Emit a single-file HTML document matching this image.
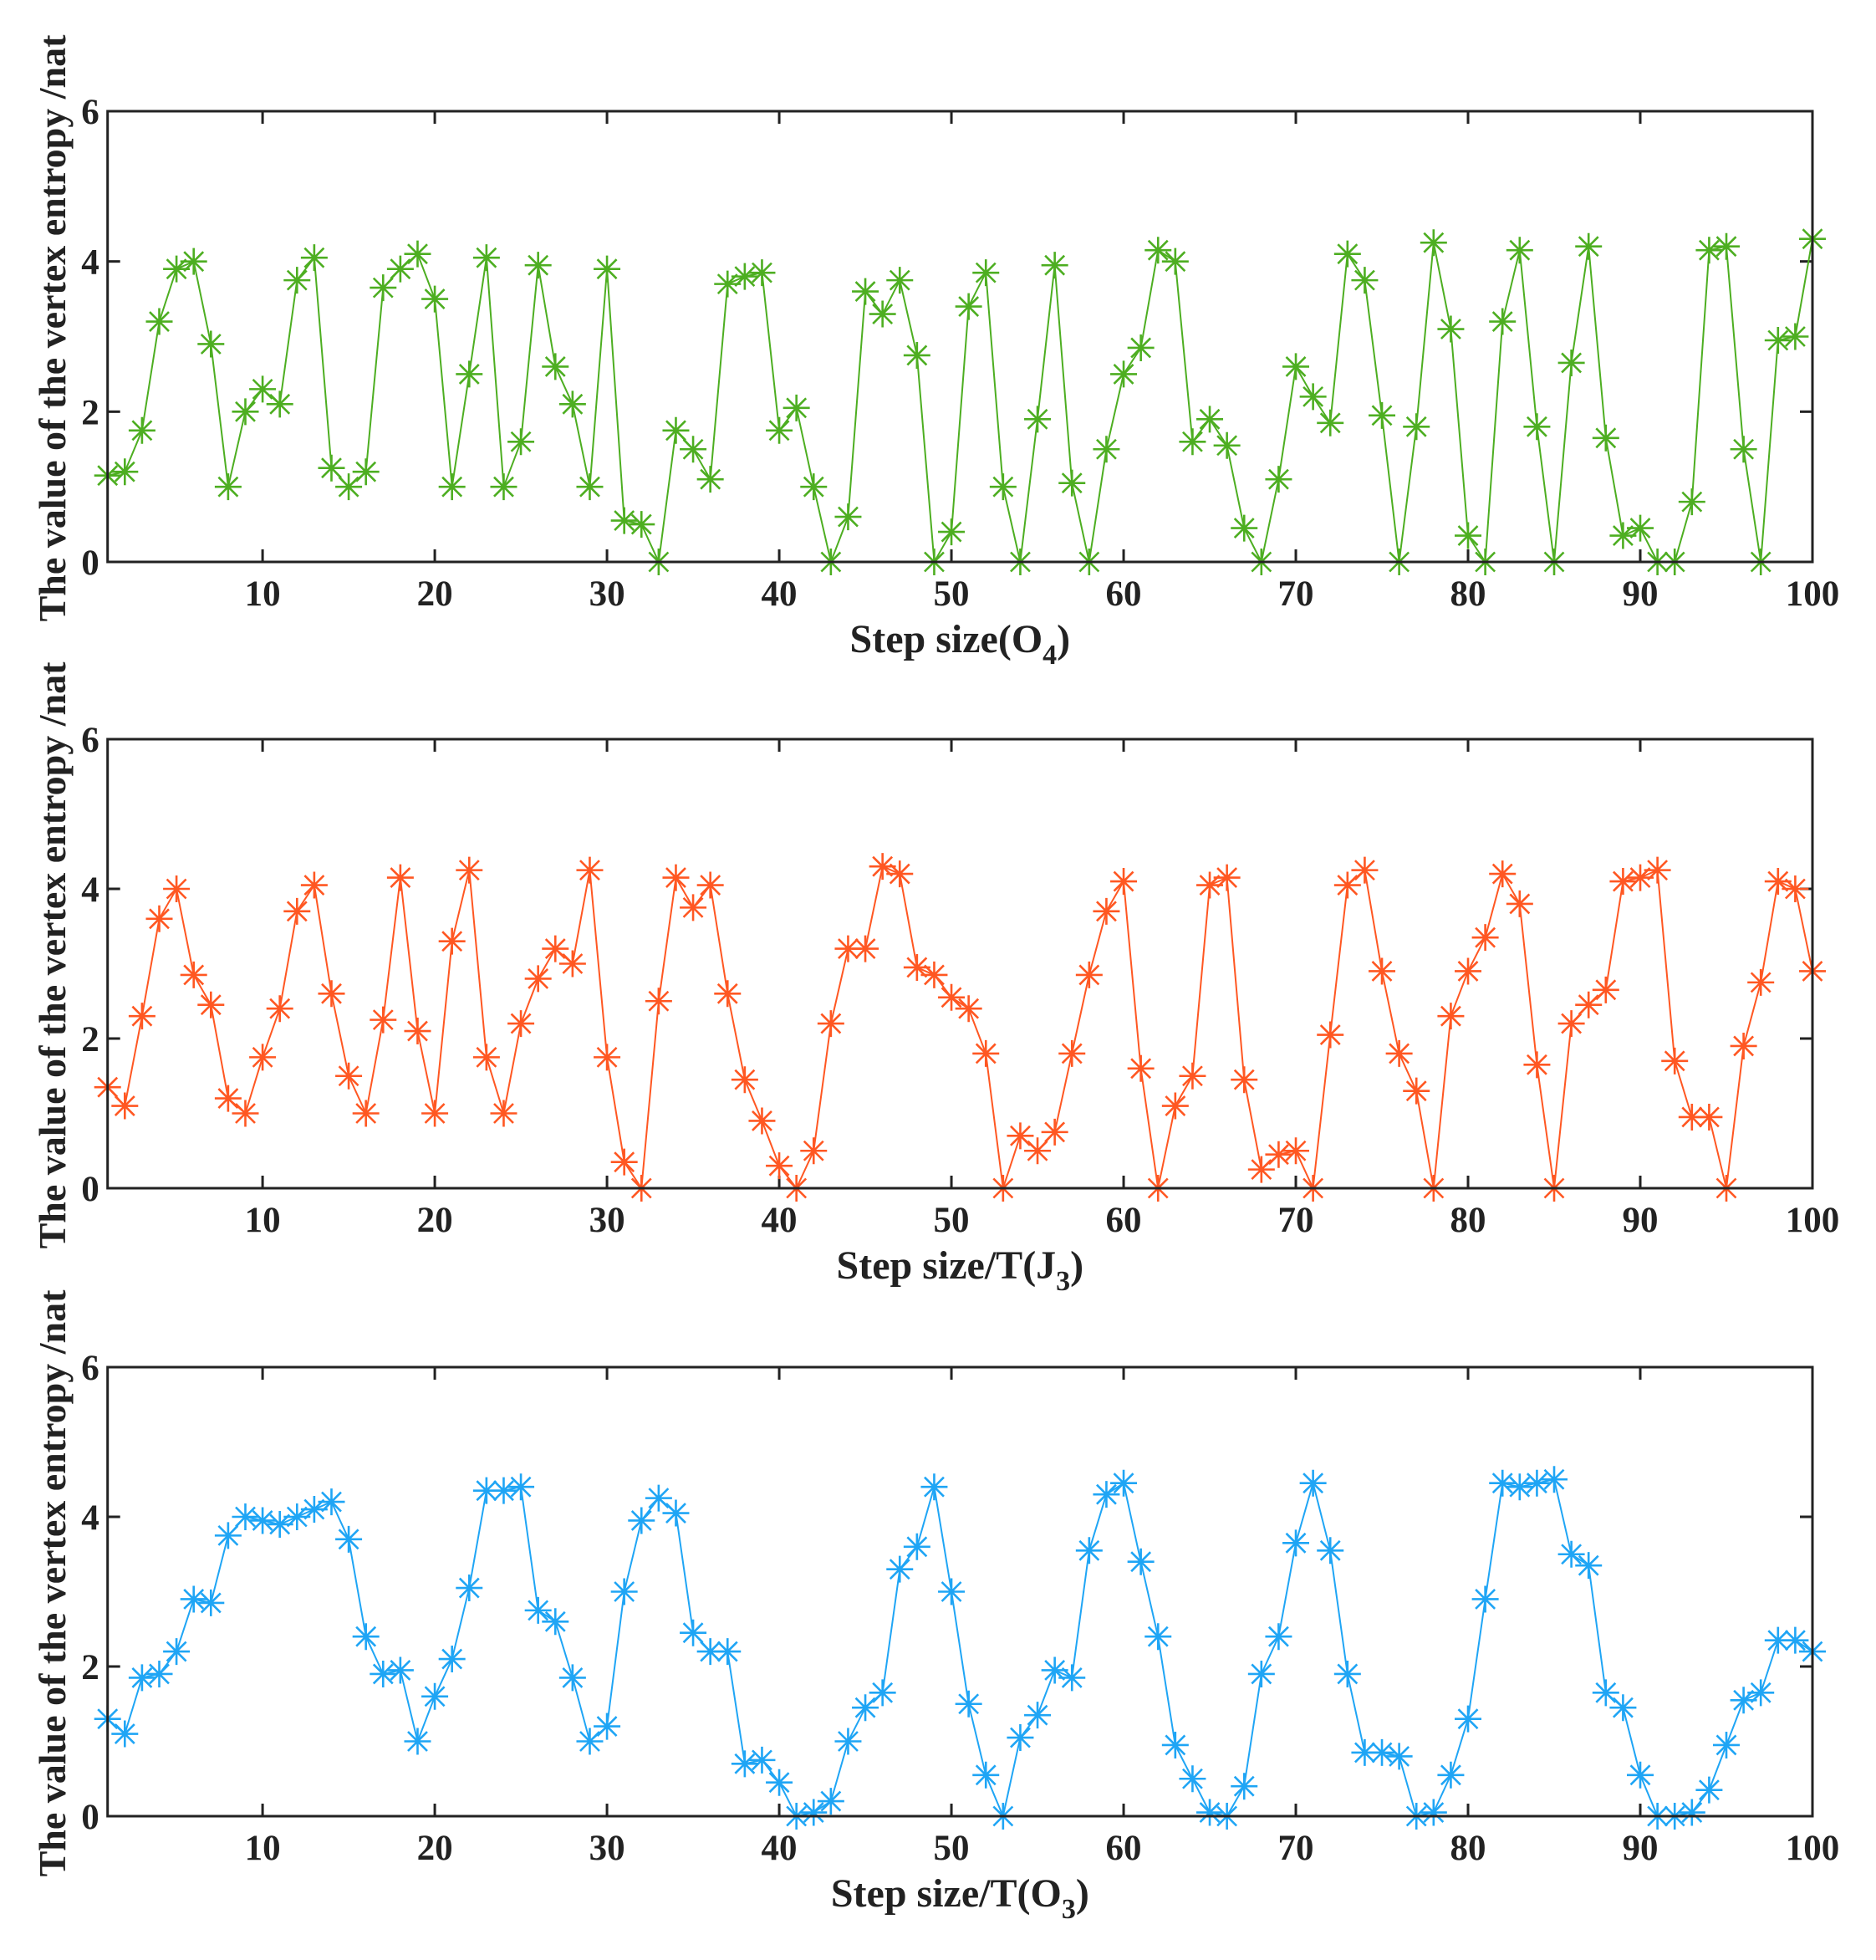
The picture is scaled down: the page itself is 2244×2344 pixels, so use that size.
<!DOCTYPE html>
<html><head><meta charset="utf-8"><style>
html,body{margin:0;padding:0;background:#fff;}
svg{display:block;font-family:"Liberation Serif",serif;font-weight:bold;}
</style></head><body>
<svg id="c" width="2244" height="2344" viewBox="0 0 2244 2344" xmlns="http://www.w3.org/2000/svg"></svg>
<script>
const xTicks=[10,20,30,40,50,60,70,80,90,100];
const yTicks=[0,2,4,6];
const seriesO4=[1.15,1.2,1.75,3.2,3.9,4.0,2.9,1.0,2.0,2.3,2.1,3.75,4.05,1.25,1.0,1.2,3.65,3.9,4.1,3.5,1.0,2.5,4.05,1.0,1.6,3.95,2.6,2.1,1.0,3.9,0.55,0.5,0,1.75,1.5,1.1,3.7,3.8,3.85,1.75,2.05,1.0,0,0.6,3.6,3.3,3.75,2.75,0,0.4,3.4,3.85,1.0,0,1.9,3.95,1.05,0,1.5,2.5,2.85,4.15,4.0,1.6,1.9,1.55,0.45,0,1.1,2.6,2.2,1.85,4.1,3.75,1.95,0,1.8,4.25,3.1,0.35,0,3.2,4.15,1.8,0,2.65,4.2,1.65,0.35,0.45,0,0,0.8,4.15,4.2,1.5,0,2.95,3.0,4.3];
const seriesJ3=[1.35,1.1,2.3,3.6,4.0,2.85,2.45,1.2,1.0,1.75,2.4,3.7,4.05,2.6,1.5,1.0,2.25,4.15,2.1,1.0,3.3,4.25,1.75,1.0,2.2,2.8,3.2,3.0,4.25,1.75,0.35,0,2.5,4.15,3.75,4.05,2.6,1.45,0.9,0.3,0,0.5,2.2,3.2,3.2,4.3,4.2,2.95,2.85,2.55,2.4,1.8,0,0.7,0.5,0.75,1.8,2.85,3.7,4.1,1.6,0,1.1,1.5,4.05,4.15,1.45,0.25,0.45,0.5,0,2.05,4.05,4.25,2.9,1.8,1.3,0,2.3,2.9,3.35,4.2,3.8,1.65,0,2.2,2.45,2.65,4.1,4.15,4.25,1.7,0.95,0.95,0,1.9,2.75,4.1,4.0,2.9];
const seriesO3=[1.3,1.1,1.85,1.9,2.2,2.9,2.85,3.75,4.0,3.95,3.9,4.0,4.1,4.2,3.7,2.4,1.9,1.95,1.0,1.6,2.1,3.05,4.35,4.35,4.4,2.75,2.6,1.85,1.0,1.2,3.0,3.95,4.25,4.05,2.45,2.2,2.2,0.7,0.75,0.45,0,0.05,0.2,1.0,1.45,1.65,3.3,3.6,4.4,3.0,1.5,0.55,0,1.05,1.35,1.95,1.85,3.55,4.3,4.45,3.4,2.4,0.95,0.5,0.05,0,0.4,1.9,2.4,3.65,4.45,3.55,1.9,0.85,0.85,0.8,0,0.05,0.55,1.3,2.9,4.45,4.4,4.45,4.5,3.5,3.35,1.65,1.45,0.55,0,0,0.05,0.35,0.95,1.55,1.65,2.35,2.35,2.2];
const panels=[
 {name:'o4',data:seriesO4,color:'#4dae21',top:133,bottom:672,xt:'Step size(O',sub:'4',post:')'},
 {name:'j3',data:seriesJ3,color:'#ff5722',top:884,bottom:1421,xt:'Step size/T(J',sub:'3',post:')'},
 {name:'o3',data:seriesO3,color:'#1fa5f5',top:1635,bottom:2172,xt:'Step size/T(O',sub:'3',post:')'}
];
const svg=document.getElementById('c');
const NS='http://www.w3.org/2000/svg';
const L=128.7,R=2168;
function mk(tag,attrs,parent){const e=document.createElementNS(NS,tag);for(const k in attrs)e.setAttribute(k,attrs[k]);(parent||svg).appendChild(e);return e;}
panels.forEach(p=>{
 const g=mk('g',{});
 
 
 const xs=v=>L+(v-1)*(R-L)/99;
 const ys=v=>p.bottom-v*(p.bottom-p.top)/6;
 xTicks.forEach(t=>{
  const x=xs(t);
  mk('line',{x1:x,x2:x,y1:p.bottom,y2:p.bottom-15,stroke:'#222','stroke-width':3},g);
  mk('line',{x1:x,x2:x,y1:p.top,y2:p.top+15,stroke:'#222','stroke-width':3},g);
  const tx=mk('text',{x:x,y:p.bottom+52,'text-anchor':'middle','font-size':43,fill:'#222'},g);
  tx.textContent=t;
  
  
 });
 yTicks.forEach(t=>{
  const y=ys(t);
  mk('line',{x1:L,x2:L+15,y1:y,y2:y,stroke:'#222','stroke-width':3},g);
  mk('line',{x1:R,x2:R-15,y1:y,y2:y,stroke:'#222','stroke-width':3},g);
  const tx=mk('text',{x:L-10,y:y+15,'text-anchor':'end','font-size':43,fill:'#222'},g);
  tx.textContent=t;
  
  
 });
 const pts=p.data.map((v,i)=>xs(i+1).toFixed(1)+','+ys(v).toFixed(1)).join(' ');
 const pl=mk('polyline',{points:pts,fill:'none',stroke:p.color,'stroke-width':2},g);
 
 
 p.data.forEach((v,i)=>{
  const cx=xs(i+1),cy=ys(v),r=16,d=11.5;
  const m=mk('path',{d:`M${cx-r},${cy}H${cx+r}M${cx},${cy-r}V${cy+r}M${cx-d},${cy-d}L${cx+d},${cy+d}M${cx-d},${cy+d}L${cx+d},${cy-d}`,stroke:p.color,'stroke-width':2.6,fill:'none'},g);
  
  
 });
 const fr=mk('rect',{x:L,y:p.top,width:R-L,height:p.bottom-p.top,fill:'none',stroke:'#222','stroke-width':3},g);
 
 
 const xt=mk('text',{x:(L+R)/2,y:p.bottom+108,'text-anchor':'middle','font-size':48,fill:'#222'},g);
 
 
 xt.appendChild(document.createTextNode(p.xt));
 const ts=mk('tspan',{'font-size':34,dy:14},xt);ts.textContent=p.sub;
 const tp=mk('tspan',{dy:-14},xt);tp.textContent=p.post;
 const yc=(p.top+p.bottom)/2-10;
 const yt=mk('text',{x:0,y:0,transform:`translate(78,${yc}) rotate(-90)`,'text-anchor':'middle','font-size':46,fill:'#222'},g);
 yt.textContent='The value of the vertex entropy /nat';
 
 
});
</script>
</body></html>
